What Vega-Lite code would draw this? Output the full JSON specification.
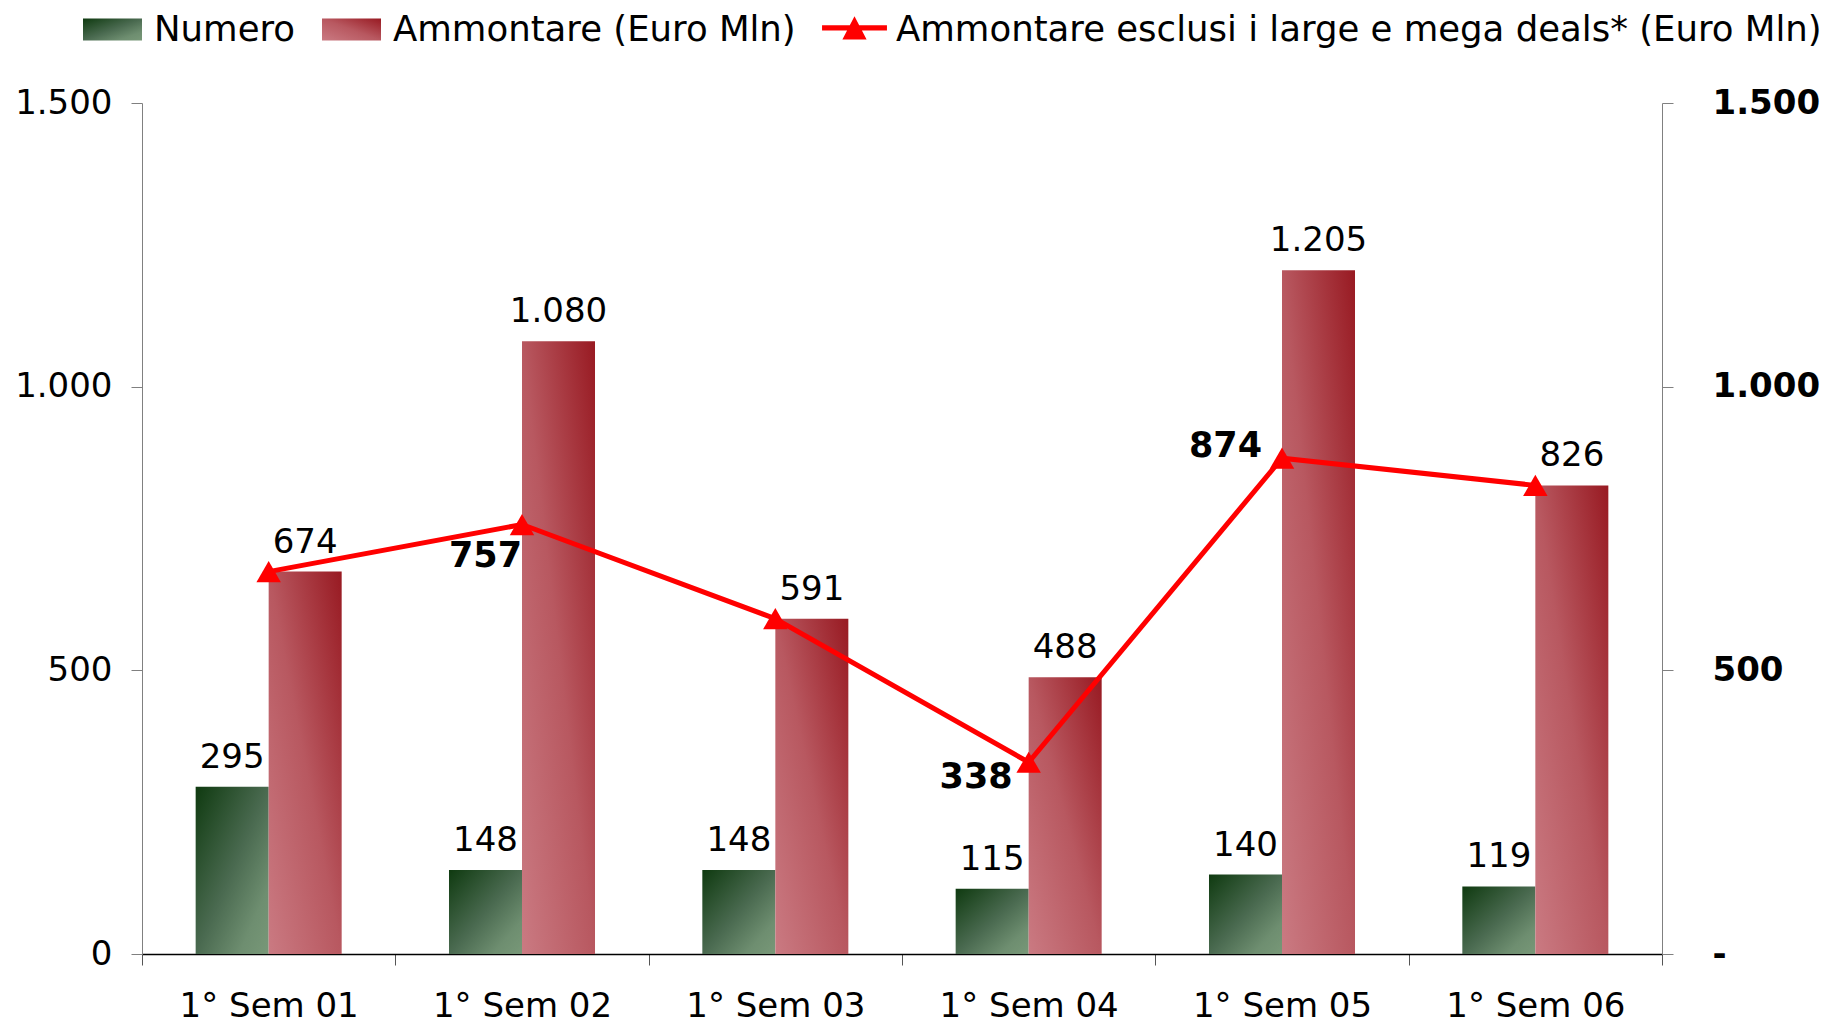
{
  "$schema": "https://vega.github.io/schema/vega-lite/v6.json",
  "width": 1520,
  "height": 851,
  "autosize": {"type": "none"},
  "padding": {"left": 142, "top": 103, "right": 173, "bottom": 70},
  "background": "white",
  "config": {
    "view": {"stroke": null},
    "font": "DejaVu Sans",
    "locale": {"number": {"decimal": ",", "thousands": ".", "grouping": [3], "currency": ["", " €"]}},
    "axis": {"labelFont": "DejaVu Sans", "labelFontSize": 34, "labelColor": "#000000", "grid": false, "title": null}
  },
  "datasets": {
    "bars": [
      {"sem": "1° Sem 01", "series": "Numero", "value": 295},
      {"sem": "1° Sem 01", "series": "Ammontare (Euro Mln)", "value": 674},
      {"sem": "1° Sem 02", "series": "Numero", "value": 148},
      {"sem": "1° Sem 02", "series": "Ammontare (Euro Mln)", "value": 1080},
      {"sem": "1° Sem 03", "series": "Numero", "value": 148},
      {"sem": "1° Sem 03", "series": "Ammontare (Euro Mln)", "value": 591},
      {"sem": "1° Sem 04", "series": "Numero", "value": 115},
      {"sem": "1° Sem 04", "series": "Ammontare (Euro Mln)", "value": 488},
      {"sem": "1° Sem 05", "series": "Numero", "value": 140},
      {"sem": "1° Sem 05", "series": "Ammontare (Euro Mln)", "value": 1205},
      {"sem": "1° Sem 06", "series": "Numero", "value": 119},
      {"sem": "1° Sem 06", "series": "Ammontare (Euro Mln)", "value": 826}
    ],
    "line": [
      {"sem": "1° Sem 01", "series": "Ammontare esclusi i large e mega deals* (Euro Mln)", "value": 674},
      {"sem": "1° Sem 02", "series": "Ammontare esclusi i large e mega deals* (Euro Mln)", "value": 757},
      {"sem": "1° Sem 03", "series": "Ammontare esclusi i large e mega deals* (Euro Mln)", "value": 591},
      {"sem": "1° Sem 04", "series": "Ammontare esclusi i large e mega deals* (Euro Mln)", "value": 338},
      {"sem": "1° Sem 05", "series": "Ammontare esclusi i large e mega deals* (Euro Mln)", "value": 874},
      {"sem": "1° Sem 06", "series": "Ammontare esclusi i large e mega deals* (Euro Mln)", "value": 826}
    ]
  },
  "layer": [
    {
      "data": {"name": "bars"},
      "encoding": {
        "x": {
          "field": "sem", "type": "nominal",
          "scale": {"paddingInner": 0, "paddingOuter": 0},
          "axis": {"labelAngle": 0, "tickBand": "extent", "domainColor": "#000000", "domainWidth": 1.5, "tickColor": "#555555", "tickSize": 11, "labelPadding": 24,
                   "encode": {"ticks": {"update": {"y": {"value": -11}}}}}
        },
        "xOffset": {"field": "series", "type": "nominal", "sort": ["Numero", "Ammontare (Euro Mln)"], "scale": {"paddingInner": 0, "paddingOuter": 0.735}},
        "y": {
          "field": "value", "type": "quantitative",
          "scale": {"domain": [0, 1500], "nice": false},
          "axis": {"orient": "left", "values": [0, 500, 1000, 1500], "format": ",d", "domainColor": "#808080", "tickColor": "#808080", "tickSize": 11, "labelPadding": 19,
                   "encode": {"ticks": {"update": {"x": {"value": 11}}}}}
        }
      },
      "layer": [
        {
          "mark": {"type": "bar"},
          "encoding": {
            "color": {
              "field": "series", "type": "nominal",
              "scale": {
                "domain": ["Numero", "Ammontare (Euro Mln)", "Ammontare esclusi i large e mega deals* (Euro Mln)"],
                "range": [
                  {"expr": "{gradient: 'linear', x1: 0, y1: 0, x2: 1, y2: 1, stops: [{offset: 0, color: '#0f3a10'}, {offset: 0.5, color: '#4a6a50'}, {offset: 0.8, color: '#6e8e70'}, {offset: 1, color: '#789878'}]}"},
                  {"expr": "{gradient: 'linear', x1: 0, y1: 1, x2: 1, y2: 0, stops: [{offset: 0, color: '#ca7a82'}, {offset: 0.5, color: '#b85860'}, {offset: 1, color: '#981a22'}]}"},
                  "#ff0000"
                ]
              },
              "legend": {
                "title": null, "orient": "none", "legendX": -59, "legendY": -103, "direction": "horizontal",
                "labelFont": "DejaVu Sans", "labelFontSize": 35.5, "labelColor": "#000000", "labelLimit": 2000,
                "symbolSize": 3481, "labelOffset": 12, "columnPadding": 26, "padding": 0,
                "encode": {"symbols": {"update": {
                  "shape": {"signal": "datum.index < 2 ? 'M-1,-0.37L1,-0.37L1,0.37L-1,0.37Z' : 'M-1.1,-0.14L1.1,-0.14L1.1,0.03L-1.1,0.03Z M-0.41,0.34L0,-0.45L0.41,0.34Z'"},
                  "fill": {"scale": "color", "field": "value"},
                  "strokeWidth": {"value": 0},
                  "opacity": {"value": 1}
                }}}
              }
            }
          }
        },
        {
          "mark": {"type": "text", "baseline": "bottom", "dy": -12, "fontSize": 34, "font": "DejaVu Sans", "color": "#000000"},
          "encoding": {"text": {"field": "value", "type": "quantitative", "format": ",d"}}
        }
      ]
    },
    {
      "data": {"name": "line"},
      "encoding": {
        "x": {
          "field": "sem", "type": "nominal",
          "axis": {"labelAngle": 0, "tickBand": "extent", "domainColor": "#000000", "domainWidth": 1.5, "tickColor": "#555555", "tickSize": 11, "labelPadding": 24,
                   "encode": {"ticks": {"update": {"y": {"value": -11}}}}}
        },
        "y": {
          "field": "value", "type": "quantitative",
          "scale": {"domain": [0, 1500], "nice": false},
          "axis": {"orient": "right", "values": [0, 500, 1000, 1500], "format": ",d", "labelExpr": "datum.value == 0 ? '-' : datum.label",
                   "labelFontWeight": "bold", "labelPadding": 39, "domainColor": "#808080", "tickColor": "#808080", "tickSize": 11,
                   "encode": {"ticks": {"update": {"x": {"value": -11}}}}}
        }
      },
      "layer": [
        {
          "mark": {"type": "line", "strokeWidth": 5, "point": {"shape": "triangle-up", "size": 600, "filled": true, "opacity": 1}},
          "encoding": {"color": {"field": "series", "type": "nominal"}}
        },
        {
          "transform": [{"filter": "datum.sem === '1° Sem 02'"}],
          "mark": {"type": "text", "align": "right", "baseline": "middle", "dx": 0, "dy": 31, "fontSize": 35, "fontWeight": "bold", "font": "DejaVu Sans", "color": "#000000"},
          "encoding": {"text": {"field": "value", "type": "quantitative", "format": ",d"}}
        },
        {
          "transform": [{"filter": "datum.sem === '1° Sem 04'"}],
          "mark": {"type": "text", "align": "right", "baseline": "middle", "dx": -16, "dy": 15, "fontSize": 35, "fontWeight": "bold", "font": "DejaVu Sans", "color": "#000000"},
          "encoding": {"text": {"field": "value", "type": "quantitative", "format": ",d"}}
        },
        {
          "transform": [{"filter": "datum.sem === '1° Sem 05'"}],
          "mark": {"type": "text", "align": "right", "baseline": "middle", "dx": -20, "dy": -12, "fontSize": 35, "fontWeight": "bold", "font": "DejaVu Sans", "color": "#000000"},
          "encoding": {"text": {"field": "value", "type": "quantitative", "format": ",d"}}
        }
      ]
    }
  ],
  "resolve": {"scale": {"y": "independent"}, "axis": {"y": "independent"}}
}
